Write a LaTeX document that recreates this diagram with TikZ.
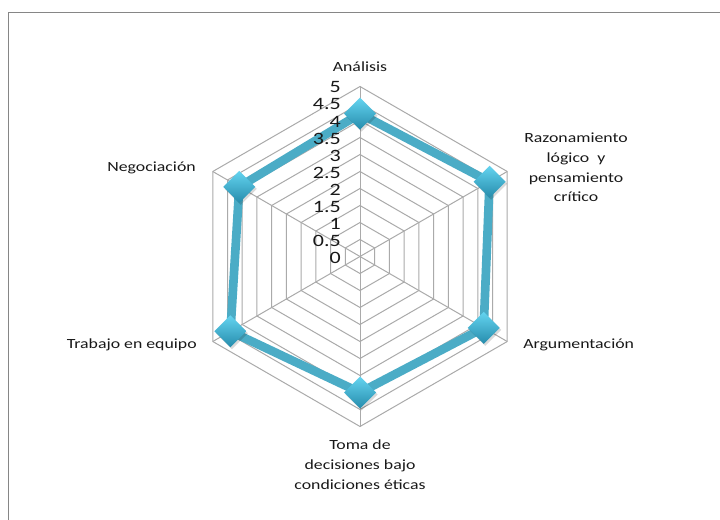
\documentclass[tikz,border=0pt]{standalone}
\usepackage{fontspec}
\setmainfont{Carlito}[FakeStretch=1.27]
\usetikzlibrary{calc}
\definecolor{gridgray}{RGB}{170,170,170}
\definecolor{framegray}{RGB}{134,134,134}
\definecolor{serieblue}{RGB}{75,172,198}
\definecolor{mktop}{RGB}{100,212,240}
\definecolor{mkbot}{RGB}{38,140,172}
\begin{document}
\begin{tikzpicture}[x=0.75pt,y=-0.75pt,
  gridline/.style={draw=gridgray,line width=0.75pt},
  framebox/.style={draw=framegray,line width=1.2pt},
  dataline/.style={draw=serieblue,line width=6.5pt,line join=round},
  catlabel/.style={font=\fontsize{10.5}{14.8}\selectfont,inner sep=0pt,text=black!90},
  ticklabel/.style={font=\fontsize{13}{14}\selectfont,inner sep=0pt,anchor=east,text=black!90},
  mkshade/.style={top color=mktop,bottom color=mkbot,draw=none},
  mkshadow/.style={fill=black,opacity=0.15,draw=none}]
\useasboundingbox (0,0) rectangle (720,520);
\fill[white] (0,0) rectangle (720,520);
\draw[framebox] (8.5,522) -- (8.5,12.5) -- (722,12.5);
\coordinate (c) at (360,256.5);
% grid rings
\foreach \k in {1,...,10}{
  \draw[gridline] ({360+17*\k*cos(90)},{256.5-17*\k*sin(90)})
    \foreach \a in {30,-30,-90,-150,150}{ -- ({360+17*\k*cos(\a)},{256.5-17*\k*sin(\a)}) } -- cycle;
}
% spokes
\foreach \a [count=\i] in {90,30,-30,-90,-150,150}{
  \coordinate (ax\i) at ({360+170*cos(\a)},{256.5-170*sin(\a)});
  \draw[gridline] (c) -- (ax\i);
}
% data points
\foreach \v/\a [count=\i] in {4.2/90,4.4/30,4.2/-30,4.0/-90,4.4/-150,4.1/150}{
  \coordinate (p\i) at ({360+34*\v*cos(\a)},{256.5-34*\v*sin(\a)});
}
\draw[dataline] (p1) -- (p2) -- (p3) -- (p4) -- (p5) -- (p6) -- cycle;
% markers
\foreach \i in {1,...,6}{
  \fill[mkshadow] ($(p\i)+(1.5,-14)$) -- ++(16,16) -- ++(-16,16) -- ++(-16,-16) -- cycle;
  \shade[mkshade] ($(p\i)+(0,-16)$) -- ++(16,16) -- ++(-16,16) -- ++(-16,-16) -- cycle;
}
% category labels
\node[catlabel] (lab1) at (360,67) {Análisis};
\node[catlabel,align=center] (lab2) at (576,167.5) {Razonamiento\\lógico\ \ y\\pensamiento\\crítico};
\node[catlabel,anchor=west] (lab3) at (523,345) {Argumentación};
\node[catlabel,align=center] (lab4) at (360,464.5) {Toma de\\decisiones bajo\\condiciones éticas};
\node[catlabel,anchor=east] (lab5) at (197,345) {Trabajo en equipo};
\node[catlabel,anchor=east] (lab6) at (196,168) {Negociación};
% tick labels
\foreach \t [count=\i from 0] in {0,0.5,1,1.5,2,2.5,3,3.5,4,4.5,5}{
  \node[ticklabel] (t\i) at (341,{257.5-17*\i}) {\t};
}
\end{tikzpicture}
\end{document}
